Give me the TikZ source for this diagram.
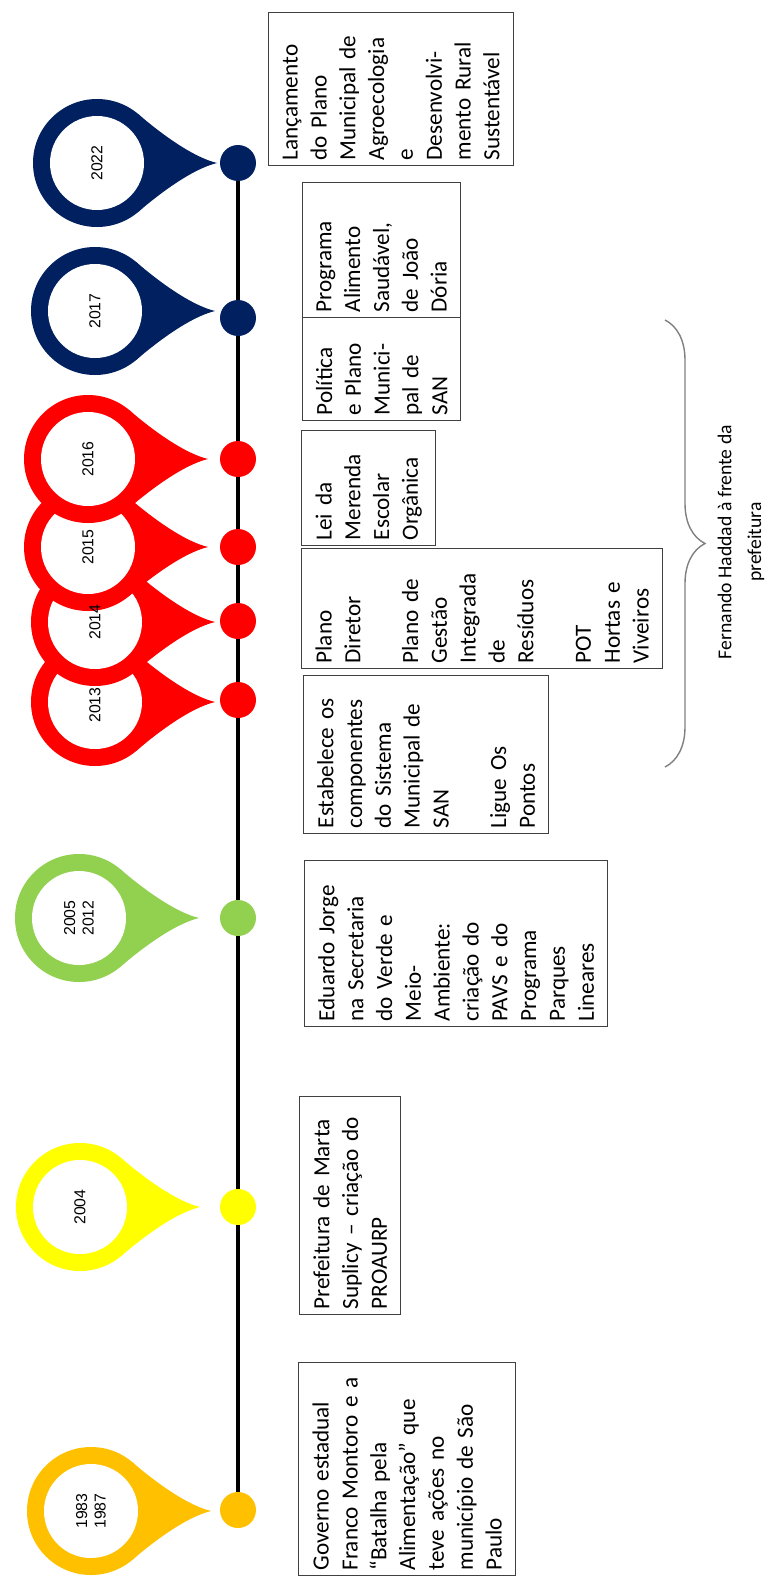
\documentclass[tikz,border=0pt]{standalone}
\usepackage{fontspec}
\setmainfont{Carlito}
\newfontfamily\anofont{Liberation Sans}
\usetikzlibrary{backgrounds,decorations.pathreplacing}
\definecolor{laranja}{HTML}{FFC000}
\definecolor{amarelo}{HTML}{FFFF00}
\definecolor{verde}{HTML}{92D050}
\definecolor{vermelho}{HTML}{FF0000}
\definecolor{marinho}{HTML}{002060}
\tikzset{
  evento/.style={draw=black!75, line width=0.8pt, rotate=90, anchor=north west, align=left,
    inner xsep=0.1cm, inner ysep=0.1cm, font=\fontsize{13.2}{16.4}\selectfont},
  ano/.style={rotate=90, align=center, inner sep=0pt, font=\anofont\fontsize{9}{10.5}\selectfont},
  marco/.style={circle, minimum size=0.72cm, inner sep=0pt},
  linha/.style={line width=2.3pt},
  chave/.style={decorate, decoration={brace, amplitude=0.8cm}, draw=gray, line width=0.8pt}
}
\begin{document}
\begin{tikzpicture}[x=0.02cm, y=-0.02cm]
\useasboundingbox (0,0) rectangle (766,1579);

\foreach \ano/\px/\py/\dy/\cor in {1983/91/1511/1510/laranja, 2004/80/1207/1207/amarelo,
  2005/79/918/918/verde, 2013/95/702/700/vermelho, 2014/95/622/621/vermelho,
  2015/88/547/547/vermelho, 2016/88/459/459/vermelho,
  2017/95/311/318/marinho, 2022/97/163/163/marinho}
{
  \fill[\cor, shift={(\px,\py)}] (0,0) circle[radius=64];
  \fill[\cor, shift={(\px,\py)}] (0,0) -- (41.1,-49) .. controls (62,-31) and (95,-6) .. (120,0)
    .. controls (95,6) and (62,31) .. (41.1,49) -- cycle;
  \fill[white] (\px,\py) circle[radius=47];
  \node[marco, fill=\cor] (d\ano) at (238,\dy) {};
}

\foreach \ano/\px/\py/\rotulo in {1983/91/1511/{1983\\1987}, 2004/80/1207/2004,
  2005/79/918/{2005\\2012}, 2013/95/705/2013, 2014/95/622/2014, 2015/88/547/2015,
  2016/88/459/2016, 2017/95/311/2017, 2022/97/163/2022}
  \node[ano] (p\ano) at (\px,\py) {\rotulo};

\begin{scope}[on background layer]
\draw[linha] (d2022) -- (d1983);
\end{scope}

\node[evento, text width=4.06cm, minimum height=4.34cm] (governo) at (298,1576)
  {Governo estadual\\Franco Montoro e a\\“Batalha pela\\Alimentação” que\\teve ações no\\município de São\\Paulo};
\node[evento, text width=4.16cm, minimum height=2.02cm] (marta) at (299,1315)
  {Prefeitura de Marta\\Suplicy – criação do\\PROAURP};
\node[evento, text width=3.12cm, minimum height=6.06cm] (eduardo) at (304,1027)
  {Eduardo Jorge\\na Secretaria\\do Verde e\\Meio-\\Ambiente:\\criação do\\PAVS e do\\Programa\\Parques\\Lineares};
\node[evento, text width=2.96cm, minimum height=4.9cm] (sisan) at (303,834)
  {Estabelece os\\componentes\\do Sistema\\Municipal de\\SAN\\[16.4pt]Ligue Os\\Pontos};
\node[evento, text width=2.2cm, minimum height=7.22cm] (diretor) at (301,669)
  {Plano\\Diretor\\[16.4pt]Plano de\\Gestão\\Integrada\\de\\Resíduos\\[16.4pt]POT\\Hortas e\\Viveiros};
\node[evento, text width=2.1cm, minimum height=2.68cm] (merenda) at (301,546)
  {Lei da\\Merenda\\Escolar\\Orgânica};
\node[evento, text width=1.86cm, minimum height=3.16cm] (politica) at (302,421)
  {Política\\e Plano\\Munici-\\pal de\\SAN};
\node[evento, text width=2.5cm, minimum height=3.16cm] (alimento) at (302,318)
  {Programa\\Alimento\\Saudável,\\de João\\Dória};
\node[evento, text width=2.86cm, minimum height=4.9cm] (agroeco) at (268,166)
  {Lançamento\\do Plano\\Municipal de\\Agroecologia\\e\\Desenvolvi-\\mento Rural\\Sustentável};

\coordinate (c1) at (665,320);
\coordinate (c2) at (665,767);
\draw[chave] (c1) -- (c2);
\node[rotate=90, align=center, font=\fontsize{11.2}{17}\selectfont] (haddad) at (741,542)
  {Fernando Haddad à frente da\\prefeitura};
\end{tikzpicture}
\end{document}
